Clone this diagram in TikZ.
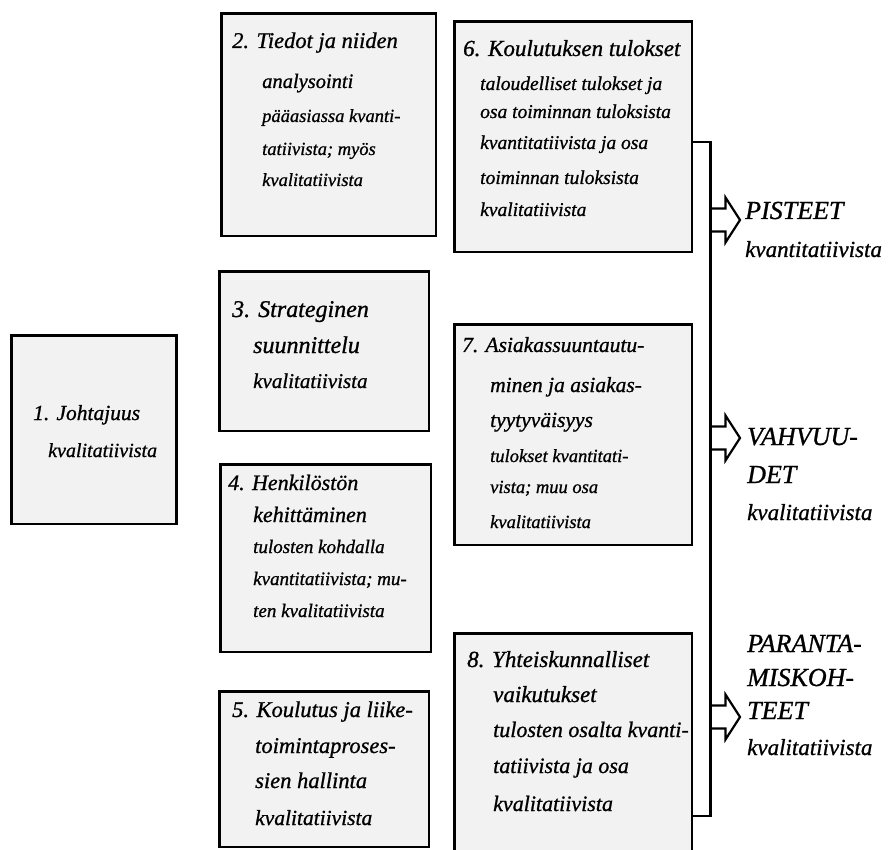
\documentclass[tikz,border=0pt]{standalone}
\usepackage{fontspec}
\setmainfont{Liberation Serif}[ItalicFeatures={FakeBold=0.9}]
\newcommand\fsz[1]{\fontsize{#1pt}{#1pt}\selectfont}
\begin{document}
\begin{tikzpicture}[x=1pt,y=-1pt,
  box/.style={draw, line width=2.8pt, fill=black!5, inner sep=0pt, outer sep=0pt,
              anchor=north west},
  txt/.style={anchor=base west, inner sep=0pt, font=\itshape\fsz{#1}},
  conn/.style={line width=2.8pt},
  arr/.style={line width=2.2pt, line join=miter}]
\useasboundingbox (0,0) rectangle (889,850);

% criteria boxes
\node[box, minimum width=165pt,   minimum height=188.5pt] (b1) at (11.5,335.5) {};
\node[box, minimum width=214.5pt, minimum height=222.5pt] (b2) at (221.5,13.5) {};
\node[box, minimum width=209.5pt, minimum height=159.5pt] (b3) at (219.5,271.5) {};
\node[box, minimum width=210.5pt, minimum height=187.5pt] (b4) at (220.5,464.5) {};
\node[box, minimum width=209.5pt, minimum height=155.5pt] (b5) at (219.5,691.5) {};
\node[box, minimum width=237.5pt, minimum height=230.5pt] (b6) at (454.5,21.5) {};
\node[box, minimum width=237.5pt, minimum height=220.5pt] (b7) at (454.5,324.5) {};
\node[box, minimum width=237.5pt, minimum height=226.5pt] (b8) at (454.5,633.5) {};

% box 1
\node[txt=21.5] (t1a) at (33,420) {1. Johtajuus};
\node[txt=20]   (t1b) at (48,457) {kvalitatiivista};
% box 2
\node[txt=22.5] (t2a) at (232,48)  {2. Tiedot ja niiden};
\node[txt=20.5] (t2b) at (262,88)  {analysointi};
\node[txt=18.5] (t2c) at (262,122) {pääasiassa kvanti-};
\node[txt=18.5] (t2d) at (262,155) {tatiivista; myös};
\node[txt=18.5] (t2e) at (262,186) {kvalitatiivista};
% box 3
\node[txt=24] (t3a) at (232,317) {3. Strateginen};
\node[txt=24] (t3b) at (253,353) {suunnittelu};
\node[txt=21] (t3c) at (253,388) {kvalitatiivista};
% box 4
\node[txt=22] (t4a) at (228,490) {4. Henkilöstön};
\node[txt=22] (t4b) at (253,522) {kehittäminen};
\node[txt=19] (t4c) at (253,553) {tulosten kohdalla};
\node[txt=19] (t4d) at (253,585) {kvantitatiivista; mu-};
\node[txt=19] (t4e) at (253,617) {ten kvalitatiivista};
% box 5
\node[txt=22.5] (t5a) at (232,717) {5. Koulutus ja liike-};
\node[txt=22.5] (t5b) at (255,753) {toimintaproses-};
\node[txt=22.5] (t5c) at (255,788) {sien hallinta};
\node[txt=21.5] (t5d) at (255,825) {kvalitatiivista};
% box 6
\node[txt=23]   (t6a) at (463,56)  {6. Koulutuksen tulokset};
\node[txt=19.5] (t6b) at (480,90)  {taloudelliset tulokset ja};
\node[txt=19.5] (t6c) at (480,118) {osa toiminnan tuloksista};
\node[txt=19.5] (t6d) at (480,149) {kvantitatiivista ja osa};
\node[txt=19.5] (t6e) at (480,184) {toiminnan tuloksista};
\node[txt=19.5] (t6f) at (480,216) {kvalitatiivista};
% box 7
\node[txt=21.5] (t7a) at (462,352) {7. Asiakassuuntautu-};
\node[txt=21.5] (t7b) at (490,392) {minen ja asiakas-};
\node[txt=21.5] (t7c) at (490,427) {tyytyväisyys};
\node[txt=18.5] (t7d) at (490,462) {tulokset kvantitati-};
\node[txt=18.5] (t7e) at (490,493) {vista; muu osa};
\node[txt=18.5] (t7f) at (490,528) {kvalitatiivista};
% box 8
\node[txt=23] (t8a) at (467,667) {8. Yhteiskunnalliset};
\node[txt=23] (t8b) at (493,702) {vaikutukset};
\node[txt=22] (t8c) at (493,737) {tulosten osalta kvanti-};
\node[txt=22] (t8d) at (493,773) {tatiivista ja osa};
\node[txt=22] (t8e) at (493,811) {kvalitatiivista};

% bracket collecting the results column
\draw[conn] ([yshift=-5.25pt]b6.east) -| (710.5,500) |- ([yshift=-69.25pt]b8.east);

% open arrows leaving the bracket
\coordinate (a1) at (710.5,220);
\coordinate (a2) at (710.5,438);
\coordinate (a3) at (710.5,717);
\foreach \a in {a1,a2,a3}
  \draw[arr] (\a) ++(0,-11.5) -- ++(15,0) -- ++(0,-11) -- ++(14.5,22.5)
             -- ++(-14.5,22.5) -- ++(0,-11) -- ++(-15,0);

% outcome labels
\node[txt=26] (p1) at (745,219) {PISTEET};
\node[txt=23] (p2) at (745,257) {kvantitatiivista};
\node[txt=26] (v1) at (747,445) {VAHVUU-};
\node[txt=26] (v2) at (747,483) {DET};
\node[txt=23] (v3) at (747,520) {kvalitatiivista};
\node[txt=26] (k1) at (747,652) {PARANTA-};
\node[txt=26] (k2) at (747,686) {MISKOH-};
\node[txt=26] (k3) at (747,719) {TEET};
\node[txt=23] (k4) at (747,755) {kvalitatiivista};
\end{tikzpicture}
\end{document}
